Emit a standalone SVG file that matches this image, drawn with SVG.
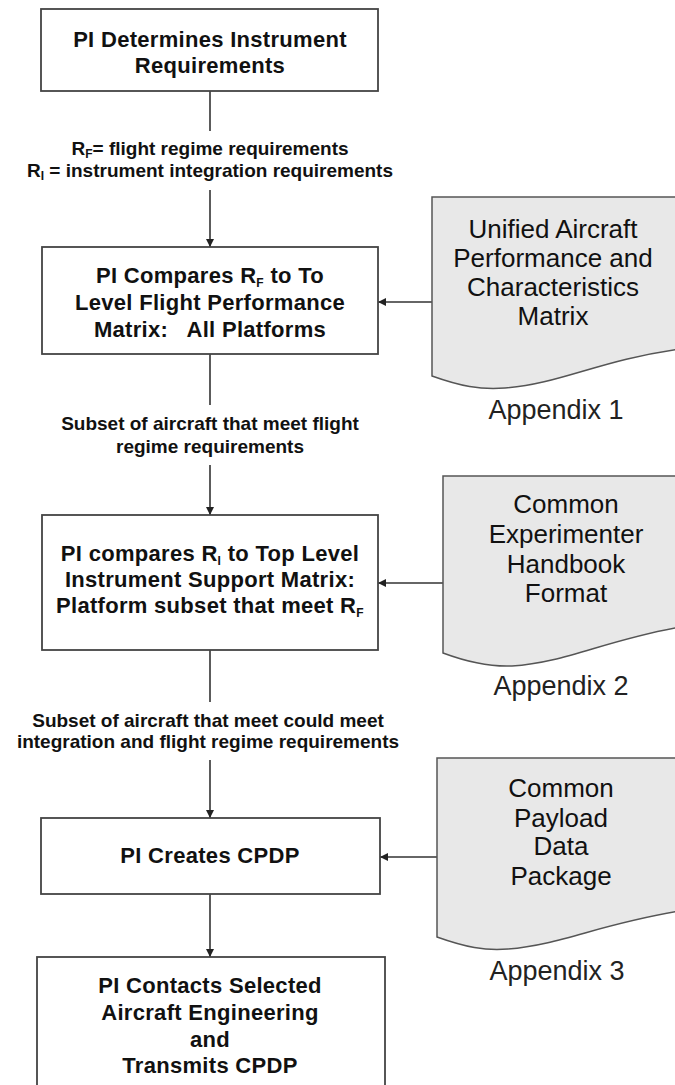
<svg xmlns="http://www.w3.org/2000/svg" width="675" height="1085" viewBox="0 0 675 1085">
<style>
.box{fill:#fff;stroke:#444;stroke-width:1.8}
.doc{fill:#e8e8e8;stroke:#555;stroke-width:1.5}
.bt{font-family:"Liberation Sans",Arial,sans-serif;font-weight:bold;font-size:22px;fill:#111;text-anchor:middle;letter-spacing:0.3px}
.lt{font-family:"Liberation Sans",Arial,sans-serif;font-weight:bold;font-size:19px;fill:#111;text-anchor:middle}
.dt{font-family:"Liberation Sans",Arial,sans-serif;font-size:26px;fill:#111;text-anchor:middle}
.ap{font-family:"Liberation Sans",Arial,sans-serif;font-size:27px;fill:#222;text-anchor:middle}
.sub{font-size:12px}
.ln{stroke:#333;stroke-width:1.6;fill:none}
</style>
<defs>
<marker id="ah" markerWidth="8" markerHeight="8" refX="8" refY="4" orient="auto" markerUnits="userSpaceOnUse">
<path d="M0,0 L8,4 L0,8 Z" fill="#222"/>
</marker>
</defs>
<rect width="675" height="1085" fill="#fff"/>

<g id="connectors">
<line class="ln" x1="210" y1="91" x2="210" y2="131"/>
<line class="ln" x1="210" y1="190" x2="210" y2="247" marker-end="url(#ah)"/>
<line class="ln" x1="210" y1="354" x2="210" y2="405"/>
<line class="ln" x1="210" y1="465" x2="210" y2="515" marker-end="url(#ah)"/>
<line class="ln" x1="210" y1="650" x2="210" y2="702"/>
<line class="ln" x1="210" y1="760" x2="210" y2="818" marker-end="url(#ah)"/>
<line class="ln" x1="210" y1="894" x2="210" y2="957" marker-end="url(#ah)"/>
<line class="ln" x1="432" y1="302" x2="378" y2="302" marker-end="url(#ah)"/>
<line class="ln" x1="443" y1="583" x2="378" y2="583" marker-end="url(#ah)"/>
<line class="ln" x1="437" y1="857" x2="380" y2="857" marker-end="url(#ah)"/>
<text class="lt" x="210" y="155">R<tspan class="sub" dy="3">F</tspan><tspan dy="-3">= flight regime requirements</tspan></text>
<text class="lt" x="210" y="177">R<tspan class="sub" dy="3">I</tspan><tspan dy="-3"> = instrument integration requirements</tspan></text>
<text class="lt" x="210" y="430">Subset of aircraft that meet flight</text>
<text class="lt" x="210" y="453">regime requirements</text>
<text class="lt" x="208" y="727">Subset of aircraft that meet could meet</text>
<text class="lt" x="208" y="748">integration and flight regime requirements</text>
</g>

<g id="n1">
<rect class="box" x="41" y="9" width="337" height="82"/>
<text class="bt" x="210" y="47">PI Determines Instrument</text>
<text class="bt" x="210" y="73">Requirements</text>
</g>

<g id="n2">
<rect class="box" x="42" y="247" width="336" height="107"/>
<text class="bt" x="210" y="283">PI Compares R<tspan class="sub" dy="4">F</tspan><tspan dy="-4"> to To</tspan></text>
<text class="bt" x="210" y="310">Level Flight Performance</text>
<text class="bt" x="210" y="337" style="white-space:pre">Matrix:   All Platforms</text>
</g>

<g id="n3">
<rect class="box" x="42" y="515" width="336" height="135"/>
<text class="bt" x="210" y="561">PI compares R<tspan class="sub" dy="4">I</tspan><tspan dy="-4"> to Top Level</tspan></text>
<text class="bt" x="210" y="587">Instrument Support Matrix:</text>
<text class="bt" x="210" y="613">Platform subset that meet R<tspan class="sub" dy="4">F</tspan></text>
</g>

<g id="n4">
<rect class="box" x="41" y="818" width="339" height="76"/>
<text class="bt" x="210" y="863">PI Creates CPDP</text>
</g>

<g id="n5">
<rect class="box" x="37" y="957" width="348" height="150"/>
<text class="bt" x="210" y="993">PI Contacts Selected</text>
<text class="bt" x="210" y="1020">Aircraft Engineering</text>
<text class="bt" x="210" y="1047">and</text>
<text class="bt" x="210" y="1073">Transmits CPDP</text>
</g>

<g id="d1">
<path class="doc" d="M680,197 H432 V376 C460,386 480,390 505,388 C560,384 600,360 680,349"/>
<text class="dt" x="553" y="238">Unified Aircraft</text>
<text class="dt" x="553" y="267">Performance and</text>
<text class="dt" x="553" y="296">Characteristics</text>
<text class="dt" x="553" y="325">Matrix</text>
<text class="ap" x="556" y="419">Appendix 1</text>
</g>

<g id="d2">
<path class="doc" d="M680,476 H443 V653 C470,663 490,667 512,666 C565,663 605,640 680,627"/>
<text class="dt" x="566" y="513">Common</text>
<text class="dt" x="566" y="543">Experimenter</text>
<text class="dt" x="566" y="573">Handbook</text>
<text class="dt" x="566" y="602">Format</text>
<text class="ap" x="561" y="695">Appendix 2</text>
</g>

<g id="d3">
<path class="doc" d="M680,758 H437 V937 C465,947 485,951 508,949 C560,945 600,924 680,911"/>
<text class="dt" x="561" y="797">Common</text>
<text class="dt" x="561" y="827">Payload</text>
<text class="dt" x="561" y="855">Data</text>
<text class="dt" x="561" y="885">Package</text>
<text class="ap" x="557" y="980">Appendix 3</text>
</g>
</svg>
